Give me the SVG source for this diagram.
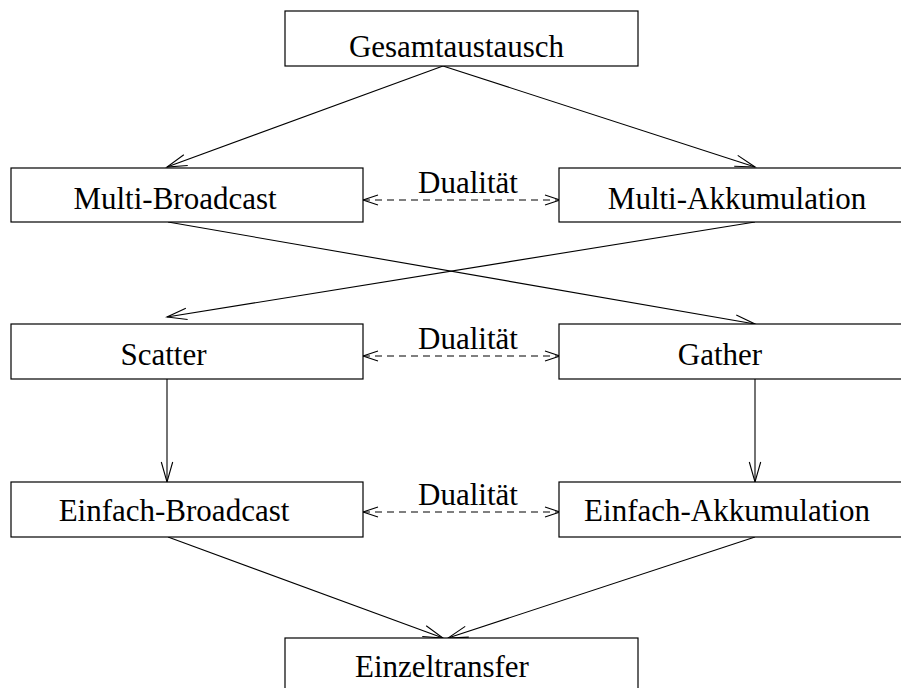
<svg xmlns="http://www.w3.org/2000/svg" width="901" height="688" viewBox="0 0 901 688">
  <style>
    .box { fill: #fff; stroke: #000; stroke-width: 1.2; }
    .lbl { font-family: "Liberation Serif", "Times New Roman", serif; font-size: 31px; fill: #000; text-anchor: middle; }
    .edge { fill: none; stroke: #000; stroke-width: 1.1; }
    .dual { stroke-dasharray: 7 5; }
    .tip { fill: none; stroke: #000; stroke-width: 1.1; stroke-dasharray: none; }
  </style>
  <defs>
    <!-- open V head for the solid connectors -->
    <marker id="head" markerUnits="userSpaceOnUse" markerWidth="24" markerHeight="14" refX="20" refY="7" orient="auto" overflow="visible">
      <path class="tip" d="M0,1.3 L20,7 L0,12.7"/>
    </marker>
    <!-- smaller open V head for the dashed duality links -->
    <marker id="dhead" markerUnits="userSpaceOnUse" markerWidth="18" markerHeight="12" refX="15" refY="6" orient="auto-start-reverse" overflow="visible">
      <path class="tip" d="M0,1 L15,6 L0,11"/>
    </marker>
  </defs>
  <rect width="901" height="688" fill="#fff"/>

  <g id="connectors">
    <line class="edge" x1="443" y1="66" x2="167" y2="167" marker-end="url(#head)"/>
    <line class="edge" x1="443" y1="66" x2="755" y2="167" marker-end="url(#head)"/>
    <line class="edge" x1="168" y1="222" x2="755" y2="324" marker-end="url(#head)"/>
    <line class="edge" x1="755" y1="222" x2="167" y2="317" marker-end="url(#head)"/>
    <line class="edge" x1="167" y1="379" x2="167" y2="482" marker-end="url(#head)"/>
    <line class="edge" x1="755" y1="379" x2="755" y2="482" marker-end="url(#head)"/>
    <line class="edge" x1="168" y1="537" x2="443" y2="638" marker-end="url(#head)"/>
    <line class="edge" x1="755" y1="537" x2="448" y2="638" marker-end="url(#head)"/>
    <line class="edge dual" x1="363" y1="200" x2="560" y2="200" marker-start="url(#dhead)" marker-end="url(#dhead)"/>
    <line class="edge dual" x1="363" y1="356" x2="560" y2="356" marker-start="url(#dhead)" marker-end="url(#dhead)"/>
    <line class="edge dual" x1="363" y1="512" x2="560" y2="512" marker-start="url(#dhead)" marker-end="url(#dhead)"/>
    <text class="lbl" x="468" y="193">Dualität</text>
    <text class="lbl" x="468" y="349">Dualität</text>
    <text class="lbl" x="468" y="505">Dualität</text>
  </g>

  <g id="gesamtaustausch">
    <rect class="box" x="285" y="11" width="353" height="55"/>
    <text class="lbl" x="456.5" y="57">Gesamtaustausch</text>
  </g>
  <g id="multi-broadcast">
    <rect class="box" x="11" y="168" width="352" height="54"/>
    <text class="lbl" x="175" y="209">Multi-Broadcast</text>
  </g>
  <g id="multi-akkumulation">
    <rect class="box" x="559" y="168" width="360" height="54"/>
    <text class="lbl" x="737" y="209">Multi-Akkumulation</text>
  </g>
  <g id="scatter">
    <rect class="box" x="11" y="324" width="352" height="55"/>
    <text class="lbl" x="163.5" y="365">Scatter</text>
  </g>
  <g id="gather">
    <rect class="box" x="559" y="324" width="360" height="55"/>
    <text class="lbl" x="720" y="365">Gather</text>
  </g>
  <g id="einfach-broadcast">
    <rect class="box" x="11" y="482" width="352" height="55"/>
    <text class="lbl" x="174" y="521">Einfach-Broadcast</text>
  </g>
  <g id="einfach-akkumulation">
    <rect class="box" x="559" y="482" width="360" height="55"/>
    <text class="lbl" x="727" y="521">Einfach-Akkumulation</text>
  </g>
  <g id="einzeltransfer">
    <rect class="box" x="285" y="638" width="353" height="60"/>
    <text class="lbl" x="442" y="677">Einzeltransfer</text>
  </g>
</svg>
